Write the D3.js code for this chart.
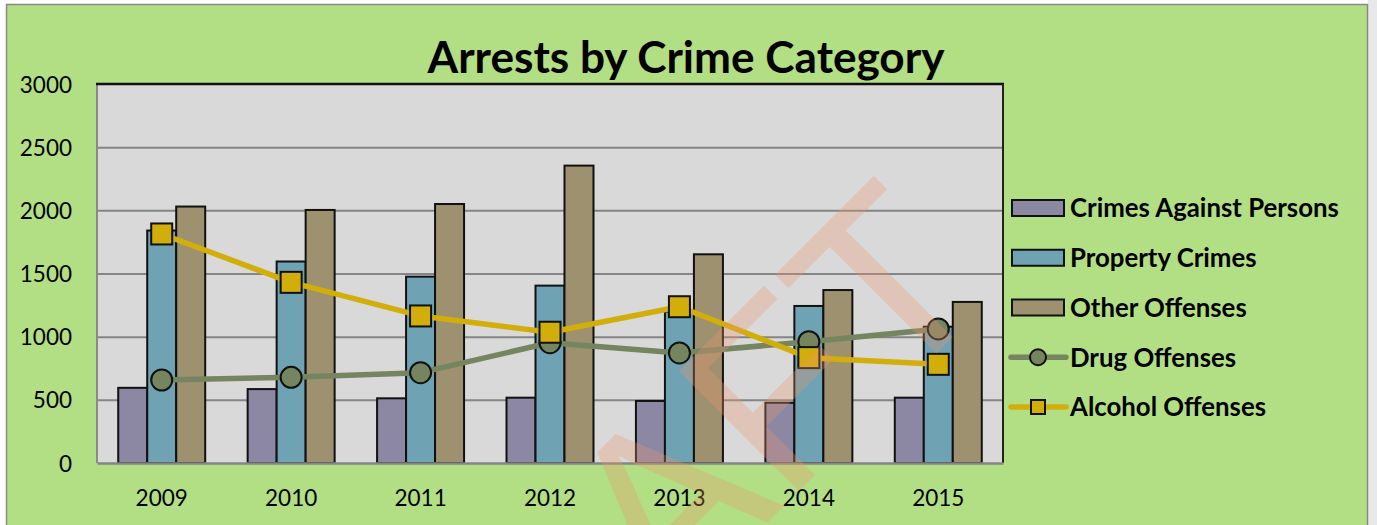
<!DOCTYPE html>
<html>
<head>
<meta charset="utf-8">
<script src="https://cdn.jsdelivr.net/npm/d3@7"></script>
<style>
  html, body { margin: 0; padding: 0; background: #ffffff; }
  svg { display: block; }
</style>
</head>
<body>
<svg id="chart" width="1377" height="525"></svg>
<script>
// Arrest counts per year, by category
const years = ["2009", "2010", "2011", "2012", "2013", "2014", "2015"];
const crimesAgainstPersons = [595, 585, 512, 517, 491, 477, 517];
const propertyCrimes = [1840, 1595, 1475, 1404, 1198, 1243, 1079];
const otherOffenses = [2030, 2003, 2050, 2354, 1652, 1369, 1275];
const drugOffenses = [657, 678, 715, 952, 871, 960, 1061];
const alcoholOffenses = [1813, 1430, 1164, 1035, 1237, 834, 781];
const yTicks = [0, 500, 1000, 1500, 2000, 2500, 3000];

const barSeries = [
  { name: "Crimes Against Persons", values: crimesAgainstPersons, color: "#8c88a4" },
  { name: "Property Crimes", values: propertyCrimes, color: "#6fa2b2" },
  { name: "Other Offenses", values: otherOffenses, color: "#9e9170" }
];
const lineSeries = [
  { name: "Drug Offenses", values: drugOffenses, color: "#748560", marker: "circle" },
  { name: "Alcohol Offenses", values: alcoholOffenses, color: "#d1ae0a", marker: "square" }
];

const FONT = "Lato, 'Open Sans', 'Liberation Sans', sans-serif";
const svg = d3.select("#chart");

// Page frame
svg.append("rect").attr("x", 1368).attr("y", 0).attr("width", 9).attr("height", 525).attr("fill", "#e8e8e8");
svg.append("rect")
  .attr("x", 6.5).attr("y", 4.5).attr("width", 1361).attr("height", 530)
  .attr("fill", "#b2de84").attr("stroke", "#8a8a8a").attr("stroke-width", 1.5);

// Plot area
const plot = { left: 97, right: 1003, top: 84, bottom: 463 };

const x = d3.scaleBand()
  .domain(years)
  .range([plot.left, plot.right])
  .paddingInner(0.328)
  .paddingOuter(0.164);

const xSeries = d3.scaleBand()
  .domain(barSeries.map(s => s.name))
  .range([0, x.bandwidth()]);

const y = d3.scaleLinear().domain([0, 3000]).range([plot.bottom, plot.top]);

svg.append("rect")
  .attr("x", plot.left).attr("y", plot.top)
  .attr("width", plot.right - plot.left).attr("height", plot.bottom - plot.top)
  .attr("fill", "#d9d9d9");

// Gridlines and y labels via axis
const yAxis = d3.axisLeft(y)
  .tickValues(yTicks)
  .tickFormat(d3.format("d"))
  .tickSize(-(plot.right - plot.left))
  .tickPadding(25);
const gy = svg.append("g").attr("transform", `translate(${plot.left},0)`).call(yAxis);
gy.select(".domain").remove();
gy.selectAll(".tick line")
  .attr("stroke", (d) => d === 0 || d === 3000 ? "none" : "#858585")
  .attr("stroke-width", 2);
gy.selectAll(".tick text")
  .attr("font-family", FONT).attr("font-size", 22.5).attr("fill", "#000")
  .attr("dy", "0.36em");

// Bars
const groups = svg.append("g").selectAll("g")
  .data(years)
  .join("g")
  .attr("transform", d => `translate(${x(d)},0)`);

barSeries.forEach(s => {
  groups.append("rect")
    .attr("x", xSeries(s.name))
    .attr("y", (d, i) => y(s.values[i]))
    .attr("width", xSeries.bandwidth())
    .attr("height", (d, i) => y(0) - y(s.values[i]))
    .attr("fill", s.color)
    .attr("stroke", "#111")
    .attr("stroke-width", 2);
});

// Plot borders
svg.append("line").attr("x1", plot.left).attr("x2", plot.left).attr("y1", plot.top).attr("y2", plot.bottom)
  .attr("stroke", "#8a8a8a").attr("stroke-width", 2);
svg.append("line").attr("x1", plot.left - 1).attr("x2", plot.right + 1).attr("y1", plot.top).attr("y2", plot.top)
  .attr("stroke", "#111").attr("stroke-width", 2.5);
svg.append("line").attr("x1", plot.right).attr("x2", plot.right).attr("y1", plot.top).attr("y2", plot.bottom)
  .attr("stroke", "#222").attr("stroke-width", 2);

// X axis
const xAxis = d3.axisBottom(x).tickSize(0).tickPadding(27);
const gx = svg.append("g").attr("transform", `translate(0,${plot.bottom})`).call(xAxis);
gx.select(".domain").attr("stroke", "#858585").attr("stroke-width", 2.5);
gx.selectAll(".tick text")
  .attr("font-family", FONT).attr("font-size", 22.5).attr("fill", "#000");

// Line series with markers
const cx = d => x(d) + x.bandwidth() / 2;
lineSeries.forEach(s => {
  const pts = years.map((yr, i) => [cx(yr), y(s.values[i])]);
  svg.append("path")
    .attr("d", d3.line()(pts))
    .attr("fill", "none")
    .attr("stroke", s.color)
    .attr("stroke-width", 5.5)
    .attr("stroke-linejoin", "round");
  const g = svg.append("g");
  if (s.marker === "circle") {
    g.selectAll("circle").data(pts).join("circle")
      .attr("cx", p => p[0]).attr("cy", p => p[1]).attr("r", 10.5)
      .attr("fill", s.color).attr("stroke", "#111").attr("stroke-width", 2);
  } else {
    g.selectAll("rect").data(pts).join("rect")
      .attr("x", p => p[0] - 10.5).attr("y", p => p[1] - 10.5)
      .attr("width", 21).attr("height", 21)
      .attr("fill", s.color).attr("stroke", "#111").attr("stroke-width", 2);
  }
});

// Title
const title = svg.append("text")
  .attr("x", 686).attr("y", 73)
  .attr("text-anchor", "middle")
  .attr("font-family", FONT).attr("font-weight", 700)
  .attr("font-size", 40)
  .attr("fill", "#000")
  .text("Arrests by Crime Category");

// Legend
const legend = svg.append("g");
const legendItems = barSeries.map(s => ({ ...s, kind: "bar" }))
  .concat(lineSeries.map(s => ({ ...s, kind: "line" })));
const rowY = d3.scalePoint().domain(legendItems.map(d => d.name)).range([208, 407]);

legendItems.forEach(item => {
  const cy = rowY(item.name);
  if (item.kind === "bar") {
    legend.append("rect")
      .attr("x", 1012).attr("y", cy - 8).attr("width", 52).attr("height", 16)
      .attr("fill", item.color).attr("stroke", "#111").attr("stroke-width", 2);
  } else {
    legend.append("line")
      .attr("x1", 1011).attr("x2", 1066).attr("y1", cy).attr("y2", cy)
      .attr("stroke", item.color).attr("stroke-width", 5.5).attr("stroke-linecap", "round");
    if (item.marker === "circle") {
      legend.append("circle").attr("cx", 1038).attr("cy", cy).attr("r", 8)
        .attr("fill", item.color).attr("stroke", "#111").attr("stroke-width", 2);
    } else {
      legend.append("rect").attr("x", 1031).attr("y", cy - 7).attr("width", 14).attr("height", 14)
        .attr("fill", item.color).attr("stroke", "#111").attr("stroke-width", 2);
    }
  }
  legend.append("text")
    .attr("class", "legend-label")
    .attr("x", 1070).attr("y", cy).attr("dy", "0.36em")
    .attr("font-family", FONT).attr("font-weight", 700).attr("font-size", 24)
    .attr("fill", "#000")
    .text(item.name);
});

// Size the title and legend text to their intended widths
function fitWidth(sel, target) {
  const node = sel.node();
  const fs = parseFloat(sel.attr("font-size"));
  const w = node.getComputedTextLength();
  if (w > 0) sel.attr("font-size", (fs * target / w).toFixed(2));
}
fitWidth(title, 517);
const firstLabel = legend.select(".legend-label");
fitWidth(firstLabel, 269);
legend.selectAll(".legend-label").attr("font-size", firstLabel.attr("font-size"));

// Watermark
svg.append("text")
  .attr("transform", "translate(998,292) rotate(-45)")
  .attr("text-anchor", "end")
  .attr("font-family", "'Liberation Sans', Arial, sans-serif")
  .attr("font-size", 247)
  .attr("fill", "rgb(240,150,110)")
  .attr("fill-opacity", 0.3)
  .text("DRAFT");
</script>
</body>
</html>
